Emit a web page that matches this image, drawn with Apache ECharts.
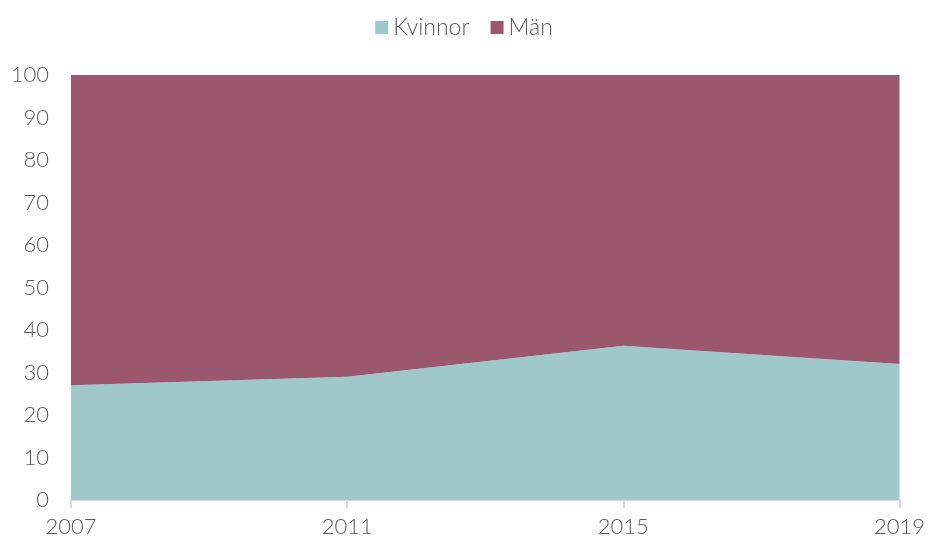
<!DOCTYPE html>
<html>
<head>
    <meta charset="utf-8">
    <title>Kvinnor och män</title>
    <script src="https://cdn.jsdelivr.net/npm/echarts@6/dist/echarts.min.js"></script>
    <style>
        html, body {margin:0;padding:0;background:#fff;}
        #chart {width:928px;height:542px;}
    </style>
</head>
<body>
<div id="chart"></div>
<script>
    var years = ['2007', '2011', '2015', '2019'];
    var kvinnor = [27, 29, 36.3, 32];
    var man = [73, 71, 63.7, 68];

    var chart = echarts.init(document.getElementById('chart'));
    var font = 'Lato';
    var option = {
        animation: false,
        legend: {
            top: 11,
            left: 'center',
            itemWidth: 13,
            itemHeight: 13,
            itemGap: 21,
            icon: 'rect',
            textStyle: {fontFamily: font, fontSize: 23, color: '#595959', fontWeight: 300},
            data: ['Kvinnor', 'Män']
        },
        grid: {left: 71, right: 24, top: 75, bottom: 42},
        xAxis: {
            type: 'category',
            boundaryGap: false,
            data: years,
            axisLine: {lineStyle: {color: '#d9d9d9', width: 2}},
            axisTick: {show: true, length: 8, lineStyle: {color: '#d9d9d9', width: 2}},
            axisLabel: {fontFamily: font, fontSize: 22, color: '#595959', margin: 16, fontWeight: 300}
        },
        yAxis: {
            type: 'value',
            min: 0,
            max: 100,
            interval: 10,
            splitLine: {show: false},
            axisLine: {show: false},
            axisTick: {show: false},
            axisLabel: {fontFamily: font, fontSize: 22, color: '#595959', margin: 22, fontWeight: 300}
        },
        series: [
            {
                name: 'Kvinnor',
                type: 'line',
                stack: 'total',
                data: kvinnor,
                symbol: 'none',
                lineStyle: {width: 0},
                itemStyle: {color: '#9fc9c9'},
                areaStyle: {color: '#9fc9c9', opacity: 1}
            },
            {
                name: 'Män',
                type: 'line',
                stack: 'total',
                data: man,
                symbol: 'none',
                lineStyle: {width: 0},
                itemStyle: {color: '#9b576d'},
                areaStyle: {color: '#9b576d', opacity: 1}
            }
        ]
    };
    chart.setOption(option);
</script>
</body>
</html>
